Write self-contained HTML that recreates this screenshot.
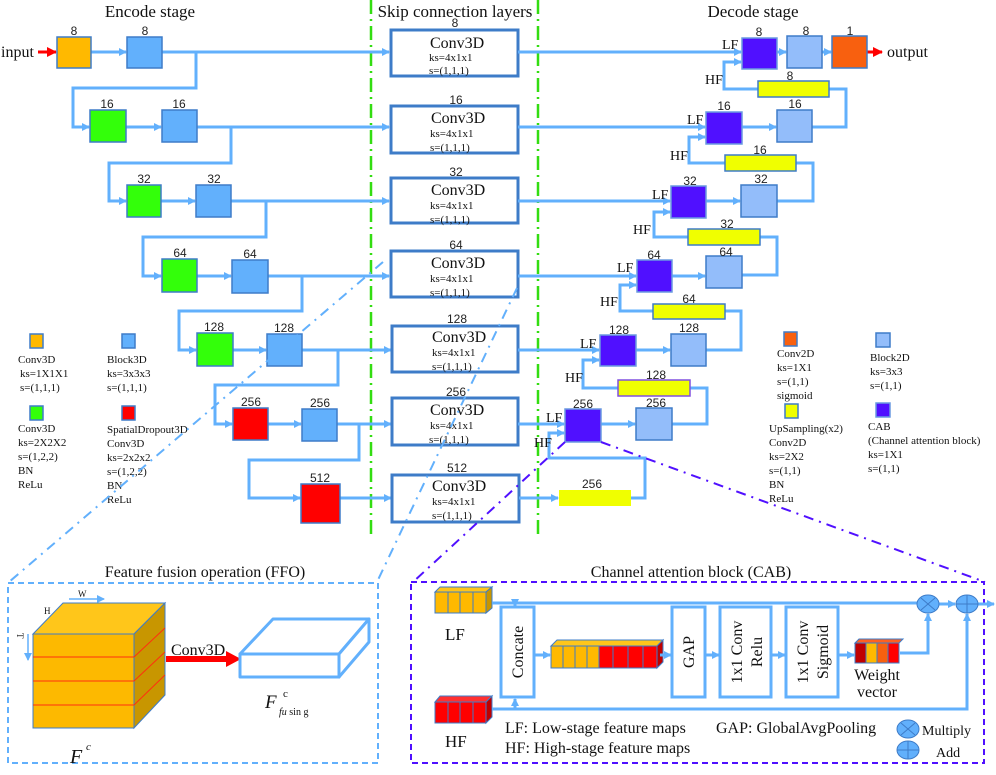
<!DOCTYPE html>
<html><head><meta charset="utf-8"><style>
body{margin:0;background:#fff}
svg{display:block}
.s{font-family:"Liberation Serif",serif;fill:#111}
.n{font-family:"Liberation Sans",sans-serif;font-size:12px;fill:#222;text-anchor:middle}
.l{fill:none;stroke:#62B0FC;stroke-width:3}
.bb{fill:#62B0FC;stroke:#3E7CC8;stroke-width:1.5}
.gb{fill:#33FF0A;stroke:#3E7CC8;stroke-width:1.5}
.rb{fill:#FF0000;stroke:#3E7CC8;stroke-width:1.5}
.pb{fill:#5010FF;stroke:#6A9AE0;stroke-width:1.5}
.lb{fill:#93BDFA;stroke:#3E7CC8;stroke-width:1.5}
.yb{fill:#F0FF00;stroke:#3E7CC8;stroke-width:1.5}
.sk{fill:#fff;stroke:#3E7CC8;stroke-width:3}
.t{font-family:"Liberation Serif",serif;font-size:11px;fill:#111}
</style></head><body>
<svg width="996" height="775" viewBox="0 0 996 775" xmlns="http://www.w3.org/2000/svg">
<defs>
<marker id="a" markerWidth="8" markerHeight="8" refX="7" refY="4" orient="auto" markerUnits="userSpaceOnUse"><path d="M0,0L8,4L0,8z" fill="#62B0FC"/></marker>
<marker id="r" markerWidth="10" markerHeight="10" refX="9" refY="5" orient="auto" markerUnits="userSpaceOnUse"><path d="M0,0L10,5L0,10z" fill="#FF0000"/></marker>
</defs>

<!-- green dash-dot lines -->
<line x1="371" y1="0" x2="371" y2="535" stroke="#33DD11" stroke-width="2.5" stroke-dasharray="14,5,2,5"/>
<line x1="538" y1="0" x2="538" y2="535" stroke="#33DD11" stroke-width="2.5" stroke-dasharray="14,5,2,5"/>

<!-- titles -->
<text class="s" x="150" y="17" font-size="17" text-anchor="middle">Encode stage</text>
<text class="s" x="455" y="17" font-size="17" text-anchor="middle">Skip connection layers</text>
<text class="s" x="753" y="17" font-size="17" text-anchor="middle">Decode stage</text>

<!-- input -->
<text class="s" x="1" y="57" font-size="16">input</text>
<line x1="38" y1="52" x2="56" y2="52" stroke="#f00" stroke-width="3" marker-end="url(#r)"/>

<!-- encoder connectors -->
<g class="l">
<line x1="91" y1="52" x2="126" y2="52" marker-end="url(#a)"/>
<line x1="162" y1="52" x2="389" y2="52" marker-end="url(#a)"/>
<polyline points="196,52 196,88 73,88 73,127 89,127" marker-end="url(#a)"/>
<line x1="126" y1="127" x2="161" y2="127" marker-end="url(#a)"/>
<line x1="197" y1="127" x2="389" y2="127" marker-end="url(#a)"/>
<polyline points="231,127 231,163 109,163 109,201 126,201" marker-end="url(#a)"/>
<line x1="161" y1="201" x2="195" y2="201" marker-end="url(#a)"/>
<line x1="231" y1="201" x2="389" y2="201" marker-end="url(#a)"/>
<polyline points="266,201 266,237 143,237 143,276 161,276" marker-end="url(#a)"/>
<line x1="197" y1="276" x2="231" y2="276" marker-end="url(#a)"/>
<line x1="268" y1="276" x2="389" y2="276" marker-end="url(#a)"/>
<polyline points="302,276 302,311 179,311 179,350 196,350" marker-end="url(#a)"/>
<line x1="233" y1="350" x2="266" y2="350" marker-end="url(#a)"/>
<line x1="302" y1="350" x2="391" y2="350" marker-end="url(#a)"/>
<polyline points="338,350 338,385 215,385 215,424 232,424" marker-end="url(#a)"/>
<line x1="268" y1="424" x2="301" y2="424" marker-end="url(#a)"/>
<line x1="337" y1="424" x2="391" y2="424" marker-end="url(#a)"/>
<polyline points="359,424 359,460 249,460 249,498 300,498" marker-end="url(#a)"/>
<line x1="340" y1="498" x2="391" y2="498" marker-end="url(#a)"/>
</g>

<!-- encoder boxes -->
<rect x="57" y="37" width="34" height="31" fill="#FFB900" stroke="#3E7CC8" stroke-width="1.5"/>
<rect class="bb" x="127" y="37" width="35" height="31"/>
<rect class="gb" x="90" y="110" width="36" height="32"/><rect class="bb" x="162" y="110" width="35" height="32"/>
<rect class="gb" x="127" y="185" width="34" height="32"/><rect class="bb" x="196" y="185" width="35" height="32"/>
<rect class="gb" x="162" y="259" width="35" height="33"/><rect class="bb" x="232" y="260" width="36" height="33"/>
<rect class="gb" x="197" y="333" width="36" height="33"/><rect class="bb" x="267" y="334" width="35" height="32"/>
<rect class="rb" x="233" y="408" width="35" height="32"/><rect class="bb" x="302" y="409" width="35" height="32"/>
<rect class="rb" x="301" y="484" width="39" height="39"/>
<text class="n" x="74" y="35">8</text><text class="n" x="145" y="35">8</text>
<text class="n" x="107" y="108">16</text><text class="n" x="179" y="108">16</text>
<text class="n" x="144" y="183">32</text><text class="n" x="214" y="183">32</text>
<text class="n" x="180" y="257">64</text><text class="n" x="250" y="258">64</text>
<text class="n" x="214" y="331">128</text><text class="n" x="284" y="332">128</text>
<text class="n" x="251" y="406">256</text><text class="n" x="320" y="407">256</text>
<text class="n" x="320" y="482">512</text>

<!-- skip boxes -->
<g>
<rect class="sk" x="391" y="30" width="127" height="46"/>
<rect class="sk" x="391" y="106" width="127" height="47"/>
<rect class="sk" x="391" y="178" width="127" height="45"/>
<rect class="sk" x="391" y="251" width="127" height="46"/>
<rect class="sk" x="392" y="326" width="126" height="46"/>
<rect class="sk" x="392" y="398" width="126" height="47"/>
<rect class="sk" x="392" y="475" width="127" height="47"/>
</g>
<g class="s">
<text class="n" x="455" y="27">8</text>
<text x="430" y="48" font-size="16">Conv3D</text><text x="429" y="61" font-size="11">ks=4x1x1</text><text x="429" y="74" font-size="11">s=(1,1,1)</text>
<text class="n" x="456" y="104">16</text>
<text x="431" y="123" font-size="16">Conv3D</text><text x="430" y="137" font-size="11">ks=4x1x1</text><text x="430" y="151" font-size="11">s=(1,1,1)</text>
<text class="n" x="456" y="176">32</text>
<text x="431" y="195" font-size="16">Conv3D</text><text x="430" y="209" font-size="11">ks=4x1x1</text><text x="430" y="223" font-size="11">s=(1,1,1)</text>
<text class="n" x="456" y="249">64</text>
<text x="431" y="268" font-size="16">Conv3D</text><text x="430" y="282" font-size="11">ks=4x1x1</text><text x="430" y="296" font-size="11">s=(1,1,1)</text>
<text class="n" x="457" y="323">128</text>
<text x="432" y="342" font-size="16">Conv3D</text><text x="432" y="356" font-size="11">ks=4x1x1</text><text x="432" y="370" font-size="11">s=(1,1,1)</text>
<text class="n" x="456" y="396">256</text>
<text x="430" y="415" font-size="16">Conv3D</text><text x="430" y="429" font-size="11">ks=4x1x1</text><text x="429" y="443" font-size="11">s=(1,1,1)</text>
<text class="n" x="457" y="472">512</text>
<text x="432" y="491" font-size="16">Conv3D</text><text x="432" y="505" font-size="11">ks=4x1x1</text><text x="432" y="519" font-size="11">s=(1,1,1)</text>
</g>

<!-- decoder connectors -->
<g class="l">
<line x1="518" y1="52" x2="741" y2="52" marker-end="url(#a)"/>
<line x1="518" y1="127" x2="705" y2="127" marker-end="url(#a)"/>
<line x1="518" y1="201" x2="670" y2="201" marker-end="url(#a)"/>
<line x1="518" y1="276" x2="636" y2="276" marker-end="url(#a)"/>
<line x1="518" y1="350" x2="599" y2="350" marker-end="url(#a)"/>
<line x1="518" y1="424" x2="564" y2="424" marker-end="url(#a)"/>
<line x1="519" y1="498" x2="558" y2="498" marker-end="url(#a)"/>
<line x1="777" y1="52" x2="786" y2="52" marker-end="url(#a)"/>
<line x1="822" y1="52" x2="831" y2="52" marker-end="url(#a)"/>
<line x1="742" y1="127" x2="776" y2="127" marker-end="url(#a)"/>
<line x1="706" y1="201" x2="740" y2="201" marker-end="url(#a)"/>
<line x1="672" y1="276" x2="705" y2="276" marker-end="url(#a)"/>
<line x1="636" y1="350" x2="670" y2="350" marker-end="url(#a)"/>
<line x1="601" y1="424" x2="635" y2="424" marker-end="url(#a)"/>
<polyline points="758,89 724,89 724,62 741,62" marker-end="url(#a)"/>
<polyline points="829,89 846,89 846,127 812,127"/>
<polyline points="725,163 689,163 689,137 705,137" marker-end="url(#a)"/>
<polyline points="796,163 813,163 813,201 777,201"/>
<polyline points="688,237 654,237 654,212 670,212" marker-end="url(#a)"/>
<polyline points="760,237 777,237 777,275 742,275"/>
<polyline points="653,311 620,311 620,285 636,285" marker-end="url(#a)"/>
<polyline points="725,311 741,311 741,350 706,350"/>
<polyline points="618,388 583,388 583,360 599,360" marker-end="url(#a)"/>
<polyline points="690,388 707,388 707,424 672,424"/>
<polyline points="631,498 645,498 645,458 549,458 549,433 564,433" marker-end="url(#a)"/>
</g>
<line x1="867" y1="52" x2="882" y2="52" stroke="#f00" stroke-width="3" marker-end="url(#r)"/>
<text class="s" x="887" y="57" font-size="16">output</text>

<!-- decoder boxes -->
<rect class="pb" x="742" y="38" width="35" height="31"/><rect class="lb" x="787" y="36" width="35" height="32"/>
<rect x="832" y="36" width="35" height="32" fill="#F8600F" stroke="#3E7CC8" stroke-width="1.5"/>
<rect class="yb" x="758" y="81" width="71" height="16"/>
<rect class="pb" x="706" y="112" width="36" height="32"/><rect class="lb" x="777" y="110" width="35" height="32"/>
<rect class="yb" x="725" y="155" width="71" height="16"/>
<rect class="pb" x="671" y="186" width="35" height="32"/><rect class="lb" x="741" y="185" width="36" height="32"/>
<rect class="yb" x="688" y="229" width="72" height="16"/>
<rect class="pb" x="637" y="260" width="35" height="32"/><rect class="lb" x="706" y="256" width="36" height="32"/>
<rect class="yb" x="653" y="304" width="72" height="15"/>
<rect class="pb" x="600" y="335" width="36" height="31"/><rect class="lb" x="671" y="334" width="35" height="32"/>
<rect class="yb" x="618" y="380" width="72" height="16" style="stroke:#8050E0"/>
<rect class="pb" x="565" y="409" width="36" height="33"/><rect class="lb" x="636" y="408" width="36" height="32"/>
<rect x="559" y="490" width="72" height="16" fill="#F0FF00"/>
<text class="n" x="759" y="36">8</text><text class="n" x="806" y="35">8</text><text class="n" x="850" y="35">1</text>
<text class="n" x="790" y="80">8</text>
<text class="n" x="724" y="110">16</text><text class="n" x="795" y="108">16</text><text class="n" x="760" y="154">16</text>
<text class="n" x="690" y="185">32</text><text class="n" x="761" y="183">32</text><text class="n" x="727" y="228">32</text>
<text class="n" x="654" y="259">64</text><text class="n" x="726" y="256">64</text><text class="n" x="689" y="303">64</text>
<text class="n" x="619" y="334">128</text><text class="n" x="689" y="332">128</text><text class="n" x="656" y="379">128</text>
<text class="n" x="583" y="408">256</text><text class="n" x="656" y="407">256</text><text class="n" x="592" y="488">256</text>
<g class="s" font-size="14">
<text x="722" y="49">LF</text><text x="705" y="84">HF</text>
<text x="687" y="124">LF</text><text x="670" y="160">HF</text>
<text x="652" y="199">LF</text><text x="633" y="234">HF</text>
<text x="617" y="272">LF</text><text x="600" y="306">HF</text>
<text x="580" y="348">LF</text><text x="565" y="382">HF</text>
<text x="546" y="422">LF</text><text x="534" y="447">HF</text>
</g>

<!-- legends -->
<rect x="30" y="334" width="13" height="14" fill="#FFB900" stroke="#3E7CC8" stroke-width="1.5"/>
<rect x="122" y="334" width="13" height="14" class="bb"/>
<rect x="30" y="406" width="13" height="14" class="gb"/>
<rect x="122" y="406" width="13" height="14" class="rb"/>
<g class="t">
<text x="18" y="363">Conv3D</text><text x="20" y="377">ks=1X1X1</text><text x="20" y="391">s=(1,1,1)</text>
<text x="107" y="363">Block3D</text><text x="107" y="377">ks=3x3x3</text><text x="107" y="391">s=(1,1,1)</text>
<text x="18" y="432">Conv3D</text><text x="18" y="446">ks=2X2X2</text><text x="18" y="460">s=(1,2,2)</text><text x="18" y="474">BN</text><text x="18" y="488">ReLu</text>
<text x="107" y="433">SpatialDropout3D</text><text x="107" y="447">Conv3D</text><text x="107" y="461">ks=2x2x2</text><text x="107" y="475">s=(1,2,2)</text><text x="107" y="489">BN</text><text x="107" y="503">ReLu</text>
</g>
<rect x="784" y="332" width="13" height="14" fill="#F8600F" stroke="#3E7CC8" stroke-width="1.5"/>
<rect x="876" y="333" width="14" height="14" class="lb"/>
<rect x="785" y="404" width="13" height="14" class="yb"/>
<rect x="876" y="403" width="14" height="14" class="pb"/>
<g class="t">
<text x="777" y="357">Conv2D</text><text x="777" y="371">ks=1X1</text><text x="777" y="385">s=(1,1)</text><text x="777" y="399">sigmoid</text>
<text x="870" y="361">Block2D</text><text x="870" y="375">ks=3x3</text><text x="870" y="389">s=(1,1)</text>
<text x="769" y="432">UpSampling(x2)</text><text x="769" y="446">Conv2D</text><text x="769" y="460">ks=2X2</text><text x="769" y="474">s=(1,1)</text><text x="769" y="488">BN</text><text x="769" y="502">ReLu</text>
<text x="868" y="430">CAB</text><text x="868" y="444">(Channel attention block)</text><text x="868" y="458">ks=1X1</text><text x="868" y="472">s=(1,1)</text>
</g>

<!-- zoom dash-dot lines -->
<g fill="none" stroke-width="2" stroke-dasharray="10,6,2,6">
<line x1="383" y1="262" x2="9" y2="582" stroke="#62B0FC"/>
<line x1="517" y1="288" x2="377" y2="582" stroke="#62B0FC"/>
<line x1="565" y1="442" x2="413" y2="582" stroke="#5010FF"/>
<line x1="601" y1="442" x2="985" y2="582" stroke="#5010FF"/>
</g>

<!-- FFO -->
<rect x="8" y="583" width="370" height="180" fill="none" stroke="#62B0FC" stroke-width="2" stroke-dasharray="6,4"/>
<text class="s" x="205" y="577" font-size="16" text-anchor="middle">Feature fusion operation (FFO)</text>
<polygon points="33,634 63,603 165,603 134,634" fill="#FFC61A" stroke="#3E7CC8" stroke-width="1"/>
<polygon points="134,634 165,603 165,695 134,728" fill="#C89600" stroke="#3E7CC8" stroke-width="1"/>
<rect x="33" y="634" width="101" height="94" fill="#FDB900" stroke="#3E7CC8" stroke-width="1"/>
<g stroke="#FF3010" stroke-width="1">
<line x1="33" y1="657" x2="134" y2="657"/><line x1="33" y1="681" x2="134" y2="681"/><line x1="33" y1="705" x2="134" y2="705"/>
<line x1="134" y1="657" x2="165" y2="628"/><line x1="134" y1="681" x2="165" y2="652"/><line x1="134" y1="705" x2="165" y2="675"/>
</g>
<line x1="69" y1="599" x2="104" y2="599" stroke="#62B0FC" stroke-width="1.5" marker-end="url(#a)"/>
<text class="s" x="78" y="597" font-size="9">W</text>
<text class="s" x="44" y="614" font-size="9">H</text>
<text class="s" x="14" y="636" font-size="9" transform="rotate(90 17 636)">T</text>
<line x1="28" y1="634" x2="28" y2="660" stroke="#62B0FC" stroke-width="1.5" marker-end="url(#a)"/>
<line x1="166" y1="659" x2="228" y2="659" stroke="#f00" stroke-width="6"/>
<path d="M226,651 L241,659 L226,667z" fill="#f00"/>
<text class="s" x="171" y="655" font-size="16">Conv3D</text>
<g fill="#fff" stroke="#62B0FC" stroke-width="3" stroke-linejoin="round">
<polygon points="240,654 273,619 369,619 339,654"/>
<polygon points="339,654 369,619 369,642 339,677"/>
<rect x="240" y="654" width="99" height="23"/>
</g>
<text class="s" x="265" y="708" font-size="19" font-style="italic">F</text>
<text class="s" x="283" y="697" font-size="11">c</text>
<text class="s" x="279" y="715" font-size="10"><tspan font-style="italic">fu</tspan> sin g</text>
<text class="s" x="70" y="763" font-size="20" font-style="italic">F</text>
<text class="s" x="86" y="750" font-size="11" font-style="italic">c</text>

<!-- CAB -->
<rect x="411" y="582" width="573" height="181" fill="none" stroke="#5010FF" stroke-width="2" stroke-dasharray="6,4"/>
<text class="s" x="691" y="577" font-size="16" text-anchor="middle">Channel attention block (CAB)</text>
<g stroke="#3E7CC8" stroke-width="1">
<polygon points="435,592 440,587 492,587 486,592" fill="#FFC61A"/>
<polygon points="486,592 492,587 492,608 486,613" fill="#C89600"/>
<rect x="435" y="592" width="51" height="21" fill="#FFB900"/>
<line x1="448" y1="592" x2="448" y2="613"/><line x1="460" y1="592" x2="460" y2="613"/><line x1="473" y1="592" x2="473" y2="613"/>
<polygon points="435,702 440,696 492,696 486,702" fill="#FF3030"/>
<polygon points="486,702 492,696 492,717 486,723" fill="#C00000"/>
<rect x="435" y="702" width="51" height="21" fill="#FF0000"/>
<line x1="448" y1="702" x2="448" y2="723"/><line x1="460" y1="702" x2="460" y2="723"/><line x1="473" y1="702" x2="473" y2="723"/>
<polygon points="551,646 557,640 663,640 657,646" fill="#FFC61A"/>
<polygon points="657,646 663,640 663,662 657,668" fill="#C00000"/>
<rect x="551" y="646" width="48" height="22" fill="#FFB900"/>
<rect x="599" y="646" width="58" height="22" fill="#FF0000"/>
<line x1="563" y1="646" x2="563" y2="668"/><line x1="575" y1="646" x2="575" y2="668"/><line x1="587" y1="646" x2="587" y2="668"/>
<line x1="613" y1="646" x2="613" y2="668"/><line x1="628" y1="646" x2="628" y2="668"/><line x1="643" y1="646" x2="643" y2="668"/>
<polygon points="855,643 859,639 903,639 899,643" fill="#FF6020"/>
<rect x="855" y="643" width="11" height="20" fill="#C00000"/>
<rect x="866" y="643" width="11" height="20" fill="#FFB900"/>
<rect x="877" y="643" width="11" height="20" fill="#F8600F"/>
<rect x="888" y="643" width="11" height="20" fill="#FF0000"/>
</g>
<text class="s" x="445" y="640" font-size="17">LF</text>
<text class="s" x="445" y="747" font-size="17">HF</text>
<g class="l">
<line x1="492" y1="603" x2="917" y2="603"/>
<line x1="515" y1="603" x2="515" y2="606" marker-end="url(#a)"/>
<polyline points="492,709 967,709 967,614" marker-end="url(#a)"/>
<line x1="515" y1="709" x2="515" y2="699" marker-end="url(#a)"/>
<line x1="534" y1="655" x2="550" y2="655" marker-end="url(#a)"/>
<line x1="660" y1="655" x2="671" y2="655" marker-end="url(#a)"/>
<line x1="705" y1="655" x2="719" y2="655" marker-end="url(#a)"/>
<line x1="771" y1="655" x2="785" y2="655" marker-end="url(#a)"/>
<line x1="838" y1="655" x2="854" y2="655" marker-end="url(#a)"/>
<polyline points="900,653 928,653 928,614" marker-end="url(#a)"/>
<line x1="939" y1="604" x2="955" y2="604" marker-end="url(#a)"/>
<line x1="978" y1="604" x2="994" y2="604" marker-end="url(#a)"/>
</g>
<g fill="#fff" stroke="#62B0FC" stroke-width="3">
<rect x="501" y="607" width="33" height="90"/>
<rect x="672" y="607" width="33" height="90"/>
<rect x="720" y="607" width="51" height="90"/>
<rect x="786" y="607" width="52" height="90"/>
</g>
<g class="s" font-size="16">
<text transform="translate(523 652) rotate(-90)" text-anchor="middle">Concate</text>
<text transform="translate(694 652) rotate(-90)" text-anchor="middle">GAP</text>
<text transform="translate(742 652) rotate(-90)" text-anchor="middle">1x1 Conv</text>
<text transform="translate(762 652) rotate(-90)" text-anchor="middle">Relu</text>
<text transform="translate(808 652) rotate(-90)" text-anchor="middle">1x1 Conv</text>
<text transform="translate(828 652) rotate(-90)" text-anchor="middle">Sigmoid</text>
<text x="877" y="680" text-anchor="middle">Weight</text>
<text x="877" y="697" text-anchor="middle">vector</text>
<text x="505" y="733">LF: Low-stage feature maps</text>
<text x="505" y="753">HF: High-stage feature maps</text>
<text x="716" y="733">GAP: GlobalAvgPooling</text>
<text x="922" y="735" font-size="14">Multiply</text>
<text x="936" y="757" font-size="14">Add</text>
</g>
<g fill="#62B0FC" stroke="#3E7CC8" stroke-width="1">
<ellipse cx="928" cy="604" rx="11" ry="9"/><ellipse cx="967" cy="604" rx="11" ry="9"/>
<ellipse cx="908" cy="729" rx="11" ry="9"/><ellipse cx="908" cy="750" rx="11" ry="9"/>
</g>
<g stroke="#3E7CC8" stroke-width="1">
<line x1="921" y1="598" x2="935" y2="610"/><line x1="935" y1="598" x2="921" y2="610"/>
<line x1="956" y1="604" x2="978" y2="604"/><line x1="967" y1="595" x2="967" y2="613"/>
<line x1="901" y1="723" x2="915" y2="735"/><line x1="915" y1="723" x2="901" y2="735"/>
<line x1="897" y1="750" x2="919" y2="750"/><line x1="908" y1="741" x2="908" y2="759"/>
</g>
</svg>
</body></html>
